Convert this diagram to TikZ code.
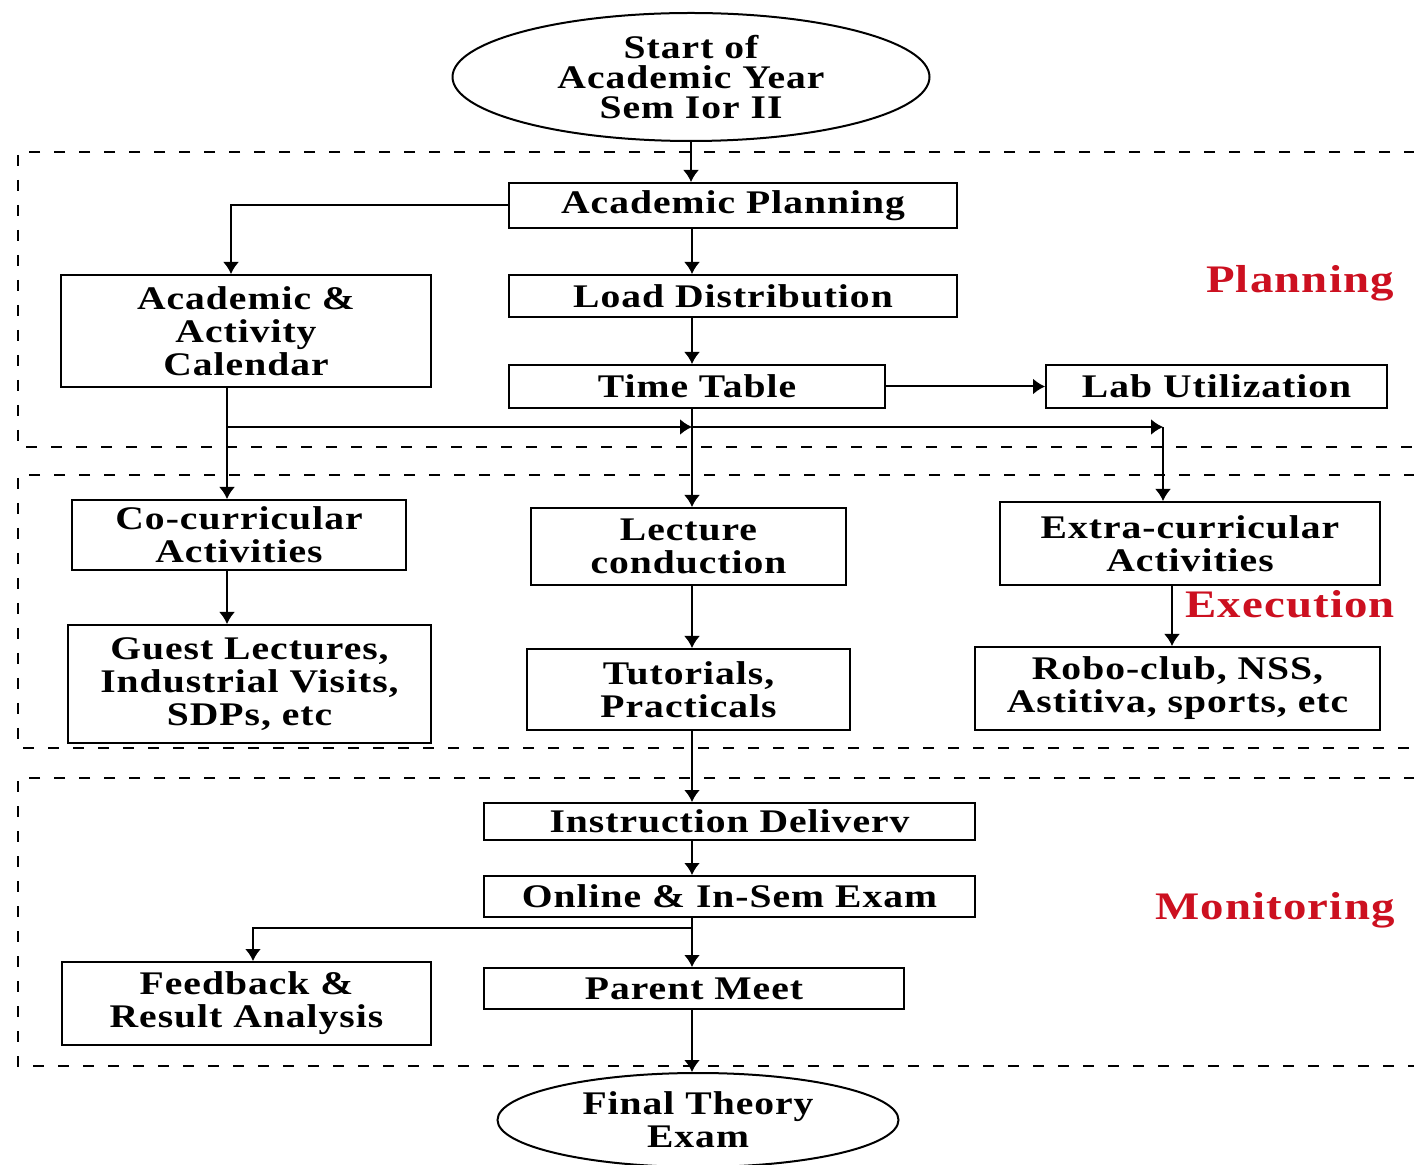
\documentclass[tikz,border=0pt]{standalone}
\usepackage{fontspec}
\setmainfont{Liberation Serif}[FakeStretch=1.2,LetterSpace=3]
\usetikzlibrary{shapes,arrows.meta,positioning}

\definecolor{phasered}{RGB}{204,16,32}

\tikzset{
  stage/.style={draw, line width=1pt, inner sep=0pt, align=center,
    font=\bfseries\fontsize{16.5}{16.5}\selectfont},
  terminal/.style={stage, ellipse},
  flow/.style={line width=1pt, -{Latex[length=6pt,width=8pt]}},
  phase/.style={line width=1pt, dash pattern=on 5.5pt off 7pt},
  phaselabel/.style={text=phasered, font=\bfseries\fontsize{19.5}{22}\selectfont}
}

\begin{document}
\begin{tikzpicture}[x=0.5pt,y=-0.5pt]
      \useasboundingbox (0,0) rectangle (1414,1165);

      % the three phases
      \foreach \top/\bot in {152/447,475/748,778/1066}
        \draw[phase] (1440,\top) -- (18,\top) -- (18,\bot) -- (1440,\bot);

      \node[phaselabel] (planlabel) at (1300,283) {Planning};
      \node[phaselabel] (execlabel) at (1290,604) {Execution};
      \node[phaselabel] (monlabel) at (1275,910) {Monitoring};

      % nodes
      \node[terminal, minimum width=238.5pt, minimum height=64pt, font=\bfseries\fontsize{16.5}{15}\selectfont] (start) at (691,77) {Start of\\Academic Year\\Sem Ior II};
      \node[stage, minimum width=224pt, minimum height=22.5pt] (plan) at (733,205.5) {Academic Planning};
      \node[stage, minimum width=224pt, minimum height=21pt] (load) at (733,296) {Load Distribution};
      \node[stage, minimum width=188pt, minimum height=21.5pt] (time) at (697,386.5) {Time Table};
      \node[stage, minimum width=185pt, minimum height=56pt] (cal) at (246,331) {Academic \&\\Activity\\Calendar};
      \node[stage, minimum width=170.5pt, minimum height=21.5pt] (lab) at (1216.5,386.5) {Lab Utilization};

      \node[stage, minimum width=167pt, minimum height=35pt] (cocur) at (239,535) {Co-curricular\\Activities};
      \node[stage, minimum width=181.5pt, minimum height=59pt] (guest) at (249.5,684) {Guest Lectures,\\Industrial Visits,\\SDPs, etc};
      \node[stage, minimum width=157.5pt, minimum height=38.5pt] (lecture) at (688.5,546.5) {Lecture\\conduction};
      \node[stage, minimum width=161.5pt, minimum height=40.5pt] (tut) at (688.5,689.5) {Tutorials,\\Practicals};
      \node[stage, minimum width=190pt, minimum height=41.5pt] (extra) at (1190,543.5) {Extra-curricular\\Activities};
      \node[stage, minimum width=202.5pt, minimum height=41.5pt] (robo) at (1177.5,688.5) {Robo-club, NSS,\\Astitiva, sports, etc};

      \node[stage, minimum width=245.5pt, minimum height=18.5pt] (instr) at (729.5,821.5) {Instruction Deliverv};
      \node[stage, minimum width=245.5pt, minimum height=20.5pt] (online) at (729.5,896.5) {Online \& In-Sem Exam};
      \node[stage, minimum width=210pt, minimum height=20.5pt] (parent) at (694,988.5) {Parent Meet};
      \node[stage, minimum width=184.5pt, minimum height=41.5pt] (fb) at (246.5,1003.5) {Feedback \&\\Result Analysis};
      \node[terminal, minimum width=200.5pt, minimum height=47pt] (final) at (698,1120) {Final Theory\\Exam};

      % columns and branch points
      \coordinate (spine) at (692,427);
      \coordinate (fork) at (227,427);
      \coordinate (right) at (1163,427);
      \coordinate (split) at (692,928);

      % connectors
      \draw[flow] (start.south) -- (plan.north -| start.south);
      \draw[flow] (plan.west) -| ([xshift=-7.5pt]cal.north);
      \draw[flow] (plan.south -| spine) -- (load.north -| spine);
      \draw[flow] (load.south -| spine) -- (time.north -| spine);
      \draw[flow] (time.east) -- (lab.west);
      \draw[flow] (time.south -| spine) -- (lecture.north -| spine);
      \draw[flow] (cal.south -| fork) -- (cocur.north -| fork);
      \draw[flow] (fork) -- (spine);
      \draw[flow] (spine) -- (right);
      \draw[flow] (right) -- (extra.north -| right);
      \draw[flow] (cocur.south -| fork) -- (guest.north -| fork);
      \draw[flow] (lecture.south -| spine) -- (tut.north -| spine);
      \draw[flow] ([xshift=-9pt]extra.south) -- ([xshift=-2.75pt]robo.north);
      \draw[flow] (tut.south -| spine) -- (instr.north -| spine);
      \draw[flow] (instr.south -| spine) -- (online.north -| spine);
      \draw[flow] (online.south -| spine) -- (parent.north -| spine);
      \draw[flow] (split) -| ([xshift=3.25pt]fb.north);
      \draw[flow] (parent.south -| spine) -- (final.north -| spine);
    \end{tikzpicture}
\end{document}
